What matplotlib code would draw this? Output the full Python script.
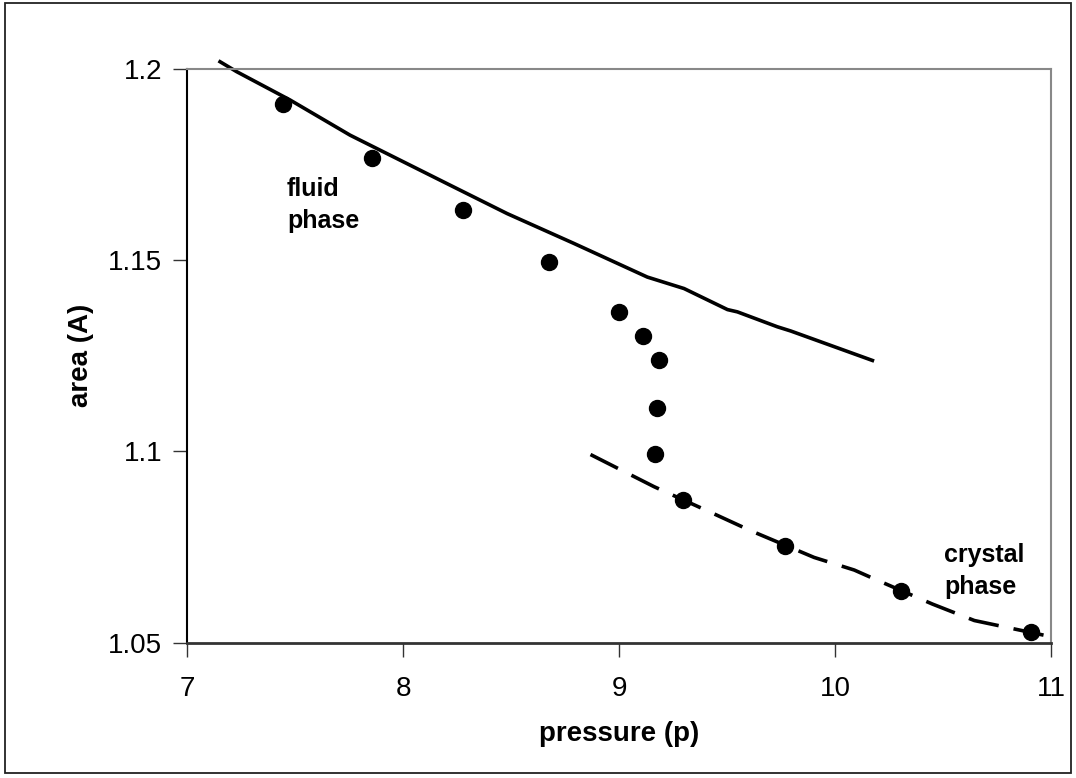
import matplotlib
matplotlib.use("Agg")
import matplotlib.pyplot as plt
from matplotlib.patches import Rectangle

plt.rcParams['font.family'] = ['Liberation Sans', 'DejaVu Sans']

# simulation points
pressure = [7.444, 7.857, 8.276, 8.675, 8.999, 9.110, 9.183, 9.175, 9.166,
            9.296, 9.767, 10.305, 10.907]
area = [1.1908, 1.1768, 1.1631, 1.1496, 1.1365, 1.1302, 1.1238, 1.1113,
        1.0993, 1.0873, 1.0752, 1.0636, 1.0527]

# fluid branch (solid line)
fluid_p = [7.153, 7.23, 7.477, 7.755, 8.219, 8.482, 8.791, 9.131, 9.301,
           9.502, 9.548, 9.733, 9.795, 10.173]
fluid_a = [1.2019, 1.1993, 1.1919, 1.1827, 1.1696, 1.1622, 1.1544, 1.1456,
           1.1426, 1.1371, 1.1365, 1.1326, 1.1315, 1.1238]

# crystal branch (dashed line)
crystal_p = [8.868, 9.162, 9.424, 9.609, 9.903, 10.089, 10.181, 10.451,
             10.645, 11.031]
crystal_a = [1.0992, 1.0908, 1.0841, 1.0793, 1.0723, 1.0690, 1.0667, 1.0601,
             1.0558, 1.0512]

x_ticks = [7, 8, 9, 10, 11]
y_ticks = [1.05, 1.1, 1.15, 1.2]
y_labels = ["1.05", "1.1", "1.15", "1.2"]

fig = plt.figure(figsize=(10.76, 7.78), dpi=100)
ax = fig.add_axes([0.1738, 0.1739, 0.9768 - 0.1738, 0.9113 - 0.1739])

ax.plot(fluid_p, fluid_a, color='black', lw=2.6, clip_on=False, zorder=2)
ax.plot(crystal_p, crystal_a, color='black', lw=2.6, linestyle=(0, (8.5, 4.2)),
        clip_on=False, zorder=2)
ax.plot(pressure, area, 'o', color='black', markersize=11.5, zorder=3)

ax.set_xlim(7, 11)
ax.set_ylim(1.05, 1.2)
ax.set_xticks(x_ticks)
ax.set_yticks(y_ticks)
ax.set_yticklabels(y_labels)
ax.tick_params(axis='both', direction='out', length=10, width=1,
               labelsize=20, pad=8, color='#333333')
ax.tick_params(axis='x', pad=14)

for side in ['top', 'right']:
    ax.spines[side].set_color('#888888')
    ax.spines[side].set_linewidth(1.5)
ax.spines['left'].set_color('black')
ax.spines['bottom'].set_color('#333333')
ax.spines['left'].set_linewidth(1.5)
ax.spines['bottom'].set_linewidth(2)

ax.set_xlabel("pressure (p)", fontsize=20, fontweight='bold', labelpad=14)
ax.set_ylabel("area (A)", fontsize=20, fontweight='bold', labelpad=10)

ax.text(7.463, 1.1645, "fluid\nphase", fontsize=18, fontweight='bold',
        va='center', ha='left', linespacing=1.4)
ax.text(10.504, 1.0688, "crystal\nphase", fontsize=18, fontweight='bold',
        va='center', ha='left', linespacing=1.4)

# outer chart border
fig.patches.append(Rectangle((5 / 1076, 5 / 778), 1066 / 1076, 770 / 778,
                             transform=fig.transFigure, fill=False,
                             edgecolor='#222222', lw=1.3))

plt.savefig("out.png", dpi=100)
